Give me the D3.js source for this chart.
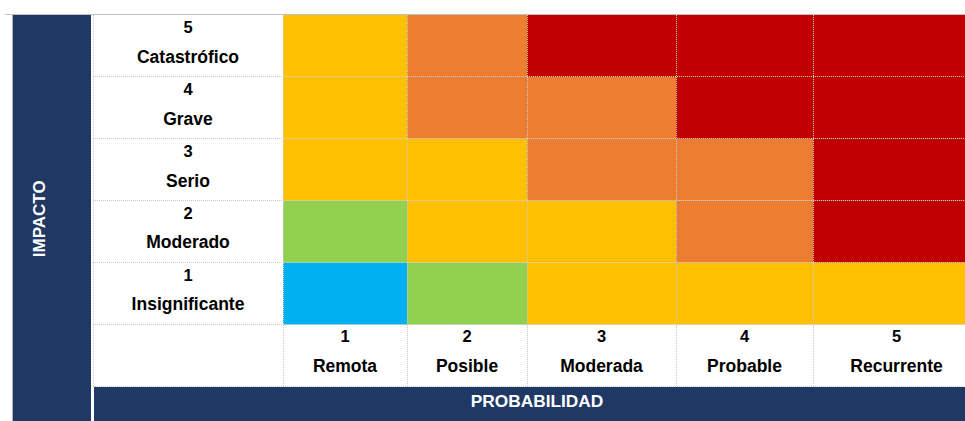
<!DOCTYPE html>
<html>
<head>
<meta charset="utf-8">
<script src="https://cdn.jsdelivr.net/npm/d3@7"></script>
<style>
  body { margin: 0; background: #fff; }
  text { font-family: "Liberation Sans", Arial, sans-serif; font-weight: bold; }
</style>
</head>
<body>
<svg id="matrix"></svg>
<script>
// impacto (filas, de arriba a abajo) y probabilidad (columnas)
const impactLevels = ["5", "4", "3", "2", "1"];
const impactNames = ["Catastrófico", "Grave", "Serio", "Moderado", "Insignificante"];
const probLevels = ["1", "2", "3", "4", "5"];
const probNames = ["Remota", "Posible", "Moderada", "Probable", "Recurrente"];

// nivel de riesgo por celda: 0 muy bajo ... 4 extremo
const riskRows = [
    [2, 3, 4, 4, 4],
    [2, 3, 3, 4, 4],
    [2, 2, 3, 3, 4],
    [1, 2, 2, 3, 4],
    [0, 1, 2, 2, 2]
];

const width = 965, height = 421;
const navy = "#203864";
const gridColor = "#c9c9c9";

// anchos de columna de la hoja (layout)
const colWidths = [124, 120, 149, 137, 167];
const tableLeft = 283, labelLeft = 93, tableTop = 15, axisRowBottom = 386.5;

const svg = d3.select("#matrix")
    .attr("width", width)
    .attr("height", height);

const xScale = d3.scaleLinear()
    .domain(d3.range(probLevels.length + 1))
    .range([tableLeft, ...Array.from(d3.cumsum(colWidths), v => tableLeft + v)]);

const yScale = d3.scaleBand()
    .domain([...impactLevels, "axis"])
    .range([tableTop, axisRowBottom]);

const colorScale = d3.scaleOrdinal()
    .domain([0, 1, 2, 3, 4])
    .range(["#00b0f0", "#92d050", "#ffc000", "#ed7d31", "#c00000"]);

const bw = yScale.bandwidth();

// celdas coloreadas
const cells = [];
riskRows.forEach((row, r) => row.forEach((v, c) => cells.push({ impact: impactLevels[r], col: c, level: v })));

svg.append("g").selectAll("rect")
    .data(cells)
    .enter().append("rect")
    .attr("x", d => xScale(d.col))
    .attr("y", d => yScale(d.impact))
    .attr("width", d => xScale(d.col + 1) - xScale(d.col))
    .attr("height", bw)
    .attr("fill", d => colorScale(d.level));

// rejilla punteada
const grid = svg.append("g")
    .attr("stroke", gridColor)
    .attr("stroke-width", 1)
    .attr("stroke-dasharray", "1,1")
    .attr("shape-rendering", "crispEdges");

yScale.domain().forEach(k => {
    grid.append("line")
        .attr("x1", labelLeft).attr("x2", width)
        .attr("y1", yScale(k) + bw).attr("y2", yScale(k) + bw);
});
d3.range(probLevels.length).forEach(i => {
    grid.append("line")
        .attr("x1", xScale(i)).attr("x2", xScale(i))
        .attr("y1", tableTop).attr("y2", axisRowBottom);
});
grid.append("line")
    .attr("x1", labelLeft).attr("x2", labelLeft)
    .attr("y1", tableTop).attr("y2", axisRowBottom);

// etiquetas de impacto
const rowLabels = svg.append("g").selectAll("g")
    .data(impactLevels)
    .enter().append("g")
    .attr("transform", d => "translate(" + ((labelLeft + tableLeft) / 2) + "," + yScale(d) + ")");

rowLabels.append("text")
    .attr("text-anchor", "middle")
    .attr("y", bw * 0.29)
    .attr("font-size", 16.5)
    .text(d => d);

rowLabels.append("text")
    .attr("text-anchor", "middle")
    .attr("y", bw * 0.77)
    .attr("font-size", 17.5)
    .text((d, i) => impactNames[i]);

// etiquetas de probabilidad
const colLabels = svg.append("g").selectAll("g")
    .data(probLevels)
    .enter().append("g")
    .attr("transform", (d, i) => "translate(" + ((xScale(i) + xScale(i + 1)) / 2) + "," + yScale("axis") + ")");

colLabels.append("text")
    .attr("text-anchor", "middle")
    .attr("y", bw * 0.28)
    .attr("font-size", 16.5)
    .text(d => d);

colLabels.append("text")
    .attr("text-anchor", "middle")
    .attr("y", bw * 0.76)
    .attr("font-size", 17.5)
    .text((d, i) => probNames[i]);

// panel IMPACTO
svg.append("rect")
    .attr("x", 13).attr("y", tableTop)
    .attr("width", 78).attr("height", height - tableTop)
    .attr("fill", navy);

svg.append("line")
    .attr("x1", 12.5).attr("x2", 12.5)
    .attr("y1", tableTop).attr("y2", height)
    .attr("stroke", "#b0b0b0");

svg.append("text")
    .attr("transform", "translate(45," + ((tableTop + axisRowBottom) / 2 + 18) + ") rotate(-90)")
    .attr("text-anchor", "middle")
    .attr("fill", "#fff")
    .attr("font-size", 17)
    .text("IMPACTO");

// barra PROBABILIDAD
svg.append("rect")
    .attr("x", 94).attr("y", axisRowBottom + 0.5)
    .attr("width", width - 94).attr("height", height - axisRowBottom)
    .attr("fill", navy);

svg.append("text")
    .attr("x", (94 + xScale(probLevels.length)) / 2)
    .attr("y", 407)
    .attr("text-anchor", "middle")
    .attr("fill", "#fff")
    .attr("font-size", 17.3)
    .text("PROBABILIDAD");

// borde superior
svg.append("line")
    .attr("x1", 5).attr("x2", width)
    .attr("y1", 14.5).attr("y2", 14.5)
    .attr("stroke", "#c0c0c0");
</script>
</body>
</html>
